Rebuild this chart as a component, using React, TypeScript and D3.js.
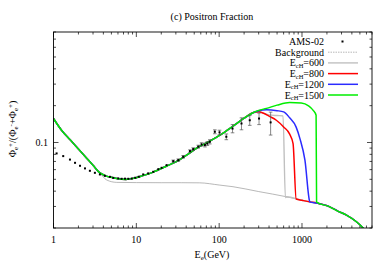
import React from 'react';
import * as d3 from 'd3';

const width = 392;
const height = 274;
const plot = { left: 53.5, right: 372, top: 32, bottom: 228 };

// shared model curve below the cutoff region
const commonE = [1, 1.25, 1.6, 2, 2.5, 3, 3.6, 4.2, 5, 6, 7.5, 9, 12, 16, 23, 30, 40, 55, 70, 90, 107, 147, 200, 260];
const commonV = [0.157, 0.126, 0.1048, 0.0885, 0.0748, 0.0652, 0.0567, 0.0536, 0.0519, 0.0505, 0.0499, 0.0507, 0.0536, 0.0573, 0.064, 0.0695, 0.0785, 0.091, 0.099, 0.109, 0.117, 0.136, 0.158, 0.176];

// background
const bgE = [1, 1.25, 1.6, 2, 2.5, 3, 3.6, 4.4, 5.8, 10, 20, 35, 58, 100, 147, 300, 650, 1000, 1243, 1500, 2163, 2700, 3443, 4540, 5458, 6500];
const bgV = [0.157, 0.126, 0.1048, 0.0885, 0.0748, 0.0652, 0.0567, 0.0493, 0.0472, 0.047, 0.0469, 0.0469, 0.0468, 0.0449, 0.0435, 0.0397, 0.036, 0.0337, 0.0327, 0.032, 0.0298, 0.0275, 0.0255, 0.0225, 0.02, 0.0172];

// branches per cutoff energy
const e600E = [300, 400, 500, 590, 630];
const e600V = [0.177, 0.168, 0.166, 0.165, 0.0355];
const e800E = [300, 338, 400, 490, 600, 710, 780, 850];
const e800V = [0.178, 0.174, 0.164, 0.152, 0.134, 0.117, 0.098, 0.0345];
const e1200E = [300, 372, 500, 600, 710, 850, 944, 1085, 1240];
const e1200V = [0.182, 0.185, 0.182, 0.178, 0.159, 0.1336, 0.1076, 0.0718, 0.0328];
const e1500E = [300, 372, 500, 710, 980, 1200, 1357, 1480, 1500];
const e1500V = [0.183, 0.19, 0.202, 0.212, 0.21, 0.199, 0.184, 0.167, 0.0326];

// AMS-02 data
const amsE = [1.09, 1.31, 1.58, 1.82, 2.09, 2.4, 2.75, 3.16, 3.63, 4.17, 4.8, 5.27, 6.05, 6.64, 7.3, 8.0, 8.8, 9.7, 10.7, 12.1, 13.9, 16.0, 18.4, 20.2, 23.2, 27.9, 32.1, 36.8, 44.4, 48.6, 56, 61.3, 67.4, 72, 77.1, 88.6, 101, 122, 145, 186, 234, 303, 418];
const amsV = [0.0814, 0.0774, 0.0725, 0.0682, 0.0645, 0.0614, 0.0587, 0.0565, 0.0548, 0.0534, 0.0524, 0.0514, 0.0509, 0.0505, 0.0506, 0.0505, 0.0508, 0.0515, 0.0525, 0.0548, 0.0559, 0.0576, 0.0605, 0.0621, 0.0653, 0.0704, 0.0718, 0.0764, 0.0851, 0.0883, 0.0925, 0.0965, 0.0953, 0.098, 0.1013, 0.1224, 0.121, 0.1114, 0.13, 0.143, 0.152, 0.157, 0.146];
const amsErr = [0.0005, 0.0005, 0.0005, 0.0005, 0.0005, 0.0005, 0.0005, 0.0005, 0.0005, 0.0005, 0.0005, 0.0005, 0.0005, 0.0005, 0.0005, 0.0005, 0.0005, 0.0005, 0.0006, 0.0007, 0.0008, 0.0009, 0.001, 0.001, 0.0012, 0.0014, 0.0016, 0.0018, 0.002, 0.0022, 0.0025, 0.003, 0.0033, 0.0035, 0.004, 0.0045, 0.005, 0.006, 0.01, 0.016, 0.014, 0.017, 0.031];

const xTickLabels = [1, 10, 100, 1000];

const x = d3.scaleLog().domain([1, 7000]).range([plot.left, plot.right]);
const y = d3.scaleLog().domain([0.02, 0.8]).range([plot.bottom, plot.top]);

const line = d3.line<[number, number]>()
  .x(d => x(d[0]))
  .y(d => y(d[1]))
  .curve(d3.curveMonotoneX);

const zipPts = (es: number[], vs: number[]) => es.map((e, i) => [e, vs[i]] as [number, number]);

const modelCurve = (be: number[], bv: number[]) => {
  const last = be[be.length - 1];
  const tail = zipPts(bgE, bgV).filter(d => d[0] > last);
  return [...zipPts(commonE, commonV), ...zipPts(be, bv), ...tail];
};

const series = [
  { name: '600', e: e600E, v: e600V, color: '#c0c0c0', w: 1.4 },
  { name: '800', e: e800E, v: e800V, color: '#ff0000', w: 1.5 },
  { name: '1200', e: e1200E, v: e1200V, color: '#2b2bff', w: 1.5 },
  { name: '1500', e: e1500E, v: e1500V, color: '#00ee00', w: 1.5 },
];

const font = '"Liberation Serif", "DejaVu Serif", serif';

export default function App() {
  const xMinor: number[] = [];
  for (let k = 0; k < 4; k++) {
    for (let m = 1; m < 10; m++) {
      const v = m * Math.pow(10, k);
      if (v <= 7000) xMinor.push(v);
    }
  }
  const yTicks: number[] = [];
  for (let k = -2; k < 0; k++) {
    for (let m = 1; m < 10; m++) {
      const v = m * Math.pow(10, k);
      if (v >= 0.02 && v <= 0.8) yTicks.push(v);
    }
  }

  const legendRows = ['AMS-02', 'Background', '600', '800', '1200', '1500'];
  const legendY = (i: number) => 41.5 + i * 10.7;

  return (
    <svg width={width} height={height} style={{ position: 'absolute', left: 0, top: 0, background: '#fff' }}
      fontFamily={font}>
      <defs>
        <clipPath id="plotclip">
          <rect x={plot.left} y={plot.top} width={plot.right - plot.left} height={plot.bottom - plot.top} />
        </clipPath>
      </defs>

      <text x={212} y={20} fontSize={10} textAnchor="middle">(c) Positron Fraction</text>

      {/* ticks */}
      {xMinor.map((v, i) => {
        const major = xTickLabels.includes(v);
        const len = major ? 5 : 2.5;
        return (
          <g key={'xt' + i} stroke="#000" strokeWidth={0.7}>
            <line x1={x(v)} x2={x(v)} y1={plot.bottom} y2={plot.bottom - len} />
            <line x1={x(v)} x2={x(v)} y1={plot.top} y2={plot.top + len} />
          </g>
        );
      })}
      {yTicks.map((v, i) => {
        const major = Math.abs(v - 0.1) < 1e-9;
        const len = major ? 5 : 2.5;
        return (
          <g key={'yt' + i} stroke="#000" strokeWidth={0.7}>
            <line x1={plot.left} x2={plot.left + len} y1={y(v)} y2={y(v)} />
            <line x1={plot.right} x2={plot.right - len} y1={y(v)} y2={y(v)} />
          </g>
        );
      })}
      {xTickLabels.map(v => (
        <text key={'xl' + v} x={x(v)} y={243} fontSize={10} textAnchor="middle">{v}</text>
      ))}
      <text x={48} y={145.5} fontSize={10} textAnchor="end">0.1</text>

      <text x={212} y={258} fontSize={10} textAnchor="middle">
        E<tspan fontSize={7} dy={2}>e</tspan><tspan dy={-2}>(GeV)</tspan>
      </text>

      <text transform="translate(16,129) rotate(-90)" fontSize={10} textAnchor="middle">
        Φ<tspan fontSize={7} dy={2}>e</tspan><tspan fontSize={7} dy={-5}>+</tspan>
        <tspan dy={3}>/(Φ</tspan><tspan fontSize={7} dy={2}>e</tspan><tspan fontSize={7} dy={-5}>-</tspan>
        <tspan dy={3}>+Φ</tspan><tspan fontSize={7} dy={2}>e</tspan><tspan fontSize={7} dy={-5}>+</tspan>
        <tspan dy={3}>)</tspan>
      </text>

      <g clipPath="url(#plotclip)" fill="none">
        <path d={line(zipPts(bgE, bgV)) || ''} stroke="#9a9a9a" strokeWidth={0.7} />
        {series.map(s => (
          <path key={s.name} d={line(modelCurve(s.e, s.v)) || ''} stroke={s.color} strokeWidth={s.w} />
        ))}
      </g>

      <g clipPath="url(#plotclip)">
        {amsE.map((e, i) => {
          const cx = x(e);
          const top = y(amsV[i] + amsErr[i]);
          const bot = y(amsV[i] - amsErr[i]);
          const showBar = bot - top > 2;
          return (
            <g key={'d' + i}>
              {showBar && (
                <g stroke="#555" strokeWidth={0.7}>
                  <line x1={cx} x2={cx} y1={top} y2={bot} />
                  <line x1={cx - 1.8} x2={cx + 1.8} y1={top} y2={top} />
                  <line x1={cx - 1.8} x2={cx + 1.8} y1={bot} y2={bot} />
                </g>
              )}
              <rect x={cx - 1} y={y(amsV[i]) - 1} width={2} height={2} fill="#000" />
            </g>
          );
        })}
      </g>

      <rect x={plot.left} y={plot.top} width={plot.right - plot.left} height={plot.bottom - plot.top}
        fill="none" stroke="#000" strokeWidth={0.9} />

      {/* legend */}
      {legendRows.map((r, i) => {
        const ly = legendY(i);
        const isE = i >= 2;
        const s = isE ? series[i - 2] : null;
        return (
          <g key={'lg' + i}>
            <text x={324} y={ly + 3.5} fontSize={10} textAnchor="end">
              {isE ? (
                <>E<tspan fontSize={6.5} dy={1.5}>cH</tspan><tspan dy={-1.5}>={r}</tspan></>
              ) : r}
            </text>
            {i === 0 && <rect x={341.5} y={ly - 1} width={2} height={2} fill="#000" />}
            {i === 1 && <line x1={328} x2={358} y1={ly} y2={ly} stroke="#9a9a9a" strokeWidth={0.7} strokeDasharray="1.5 1" />}
            {s && <line x1={328} x2={358} y1={ly} y2={ly} stroke={s.color} strokeWidth={s.w} />}
          </g>
        );
      })}
    </svg>
  );
}
